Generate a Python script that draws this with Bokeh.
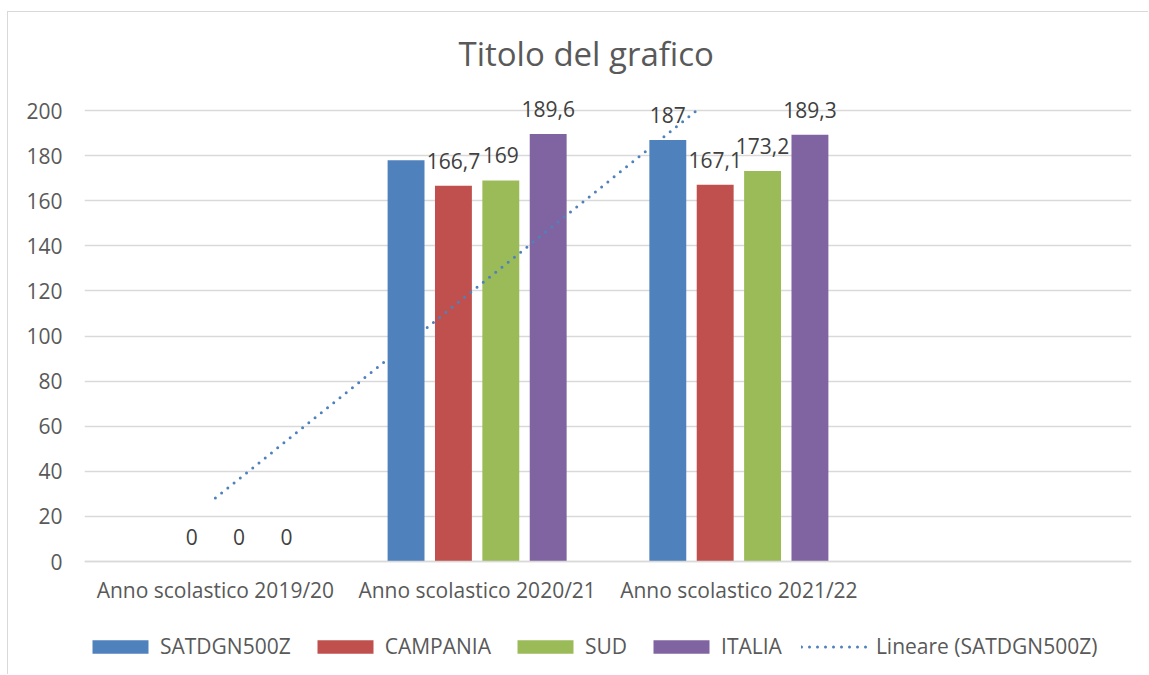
import numpy as np
from bokeh.plotting import figure
from bokeh.models import (Range1d, FixedTicker, ColumnDataSource, LabelSet,
                          Legend, LegendItem, Title)
from bokeh.core.properties import value
from bokeh.embed import file_html
from bokeh.resources import INLINE

# ---------------- data ----------------
categories = ["Anno scolastico 2019/20", "Anno scolastico 2020/21",
              "Anno scolastico 2021/22", ""]
series_names = ["SATDGN500Z", "CAMPANIA", "SUD", "ITALIA"]
satdgn500z = [0, 178, 187]
campania = [0, 166.7, 167.1]
sud = [0, 169, 173.2]
italia = [0, 189.6, 189.3]
# data labels shown in the original chart
satdgn500z_labels_shown = [False, False, True]
campania_labels_shown = [True, True, True]
sud_labels_shown = [True, True, True]
italia_labels_shown = [True, True, True]
trend_name = "Lineare (SATDGN500Z)"
y_ticks = [0, 20, 40, 60, 80, 100, 120, 140, 160, 180, 200]
y_max = 200
title_text = "Titolo del grafico"

# ---------------- style ----------------
colors = ["#4F81BD", "#C0504D", "#9BBB59", "#8064A2"]
FONT = "Open Sans"
TXT = "#595959"
GRID = "#d9d9d9"
bar_w = 0.141
step = 0.181

# the frame reaches down to the legend; the value axis room is 0..200
p = figure(width=1141, height=663, output_backend="svg", toolbar_location=None,
           x_range=Range1d(0.5, len(categories) + 0.5),
           y_range=Range1d(-48.3, 212.0),
           min_border_left=76, min_border_right=18, min_border_top=71,
           min_border_bottom=5)
p.styles = {"margin-left": "7px", "margin-top": "11px",
            "border-left": "1px solid #d9d9d9",
            "border-top": "1px solid #d9d9d9"}
p.outline_line_color = None
p.background_fill_color = "white"
p.border_fill_color = "white"

p.title = Title(text=title_text, align="left", text_font=FONT,
                text_font_size="33px", text_font_style="normal",
                text_color=TXT, standoff=16, offset=374)

def fmt(v):
    s = f"{v:.1f}"
    if s.endswith(".0"):
        s = s[:-2]
    return s.replace(".", ",")

all_series = [satdgn500z, campania, sud, italia]
all_shown = [satdgn500z_labels_shown, campania_labels_shown,
             sud_labels_shown, italia_labels_shown]
xs_idx = np.arange(1, len(satdgn500z) + 1)

sources = {}
lab_x, lab_y, lab_t = [], [], []
for k, (name, vals, shown) in enumerate(zip(series_names, all_series, all_shown)):
    xs = xs_idx + (k - 1.5) * step
    sources[name] = ColumnDataSource(dict(x=xs, top=vals))
    for xx, vv, sh in zip(xs, vals, shown):
        if sh:
            lab_x.append(xx); lab_y.append(vv); lab_t.append(fmt(vv))

bar_r = {}
# other series first, then the trendline, then SATDGN500Z on top (as in the original)
for k, name in enumerate(series_names):
    if k == 0:
        continue
    bar_r[name] = p.vbar(x="x", top="top", width=bar_w, source=sources[name],
                         fill_color=colors[k], line_color=None)

# linear trendline of SATDGN500Z, cut at the top of the value axis
coef = np.polyfit(xs_idx, satdgn500z, 1)
x_end = min(float(xs_idx[-1]), (y_max - coef[1]) / coef[0])
tx = np.array([float(xs_idx[0]), x_end])
trend_r = p.line(tx, np.polyval(coef, tx), line_color=colors[0], line_width=3,
                 line_dash="0 8", line_cap="round")

bar_r[series_names[0]] = p.vbar(x="x", top="top", width=bar_w,
                                source=sources[series_names[0]],
                                fill_color=colors[0], line_color=None)

labels = LabelSet(x="x", y="y", text="t",
                  source=ColumnDataSource(dict(x=lab_x, y=lab_y, t=lab_t)),
                  text_align="center", text_baseline="alphabetic", y_offset=17,
                  text_font=value(FONT), text_font_size=value("21px"),
                  text_color="#404040")
p.add_layout(labels)

# axes
p.xaxis.fixed_location = 0
p.xaxis.ticker = FixedTicker(ticks=list(range(1, len(categories) + 1)))
p.xaxis.major_label_overrides = {i + 1: c for i, c in enumerate(categories)}
p.yaxis.ticker = FixedTicker(ticks=y_ticks)
for ax in (p.xaxis, p.yaxis):
    ax.major_tick_line_color = None
    ax.minor_tick_line_color = None
    ax.major_label_text_font = FONT
    ax.major_label_text_font_size = "21px"
    ax.major_label_text_color = TXT
p.yaxis.axis_line_color = None
p.yaxis.major_label_standoff = 16
p.xaxis.axis_line_color = GRID
p.xaxis.axis_line_width = 1.5
p.xaxis.major_label_standoff = 8

p.xgrid.visible = False
p.ygrid.grid_line_color = GRID
p.ygrid.grid_line_width = 1.5

items = [LegendItem(label=n, renderers=[bar_r[n]]) for n in series_names]
items.append(LegendItem(label=trend_name, renderers=[trend_r]))
legend = Legend(items=items, orientation="horizontal", location=(1, 10),
                glyph_width=70, glyph_height=17, label_standoff=5, spacing=19,
                padding=0, margin=0, border_line_color=None,
                background_fill_alpha=0, label_text_font=FONT,
                label_text_font_size="21px", label_text_color=TXT)
p.add_layout(legend)

open("out.html", "w").write(file_html(p, INLINE))
